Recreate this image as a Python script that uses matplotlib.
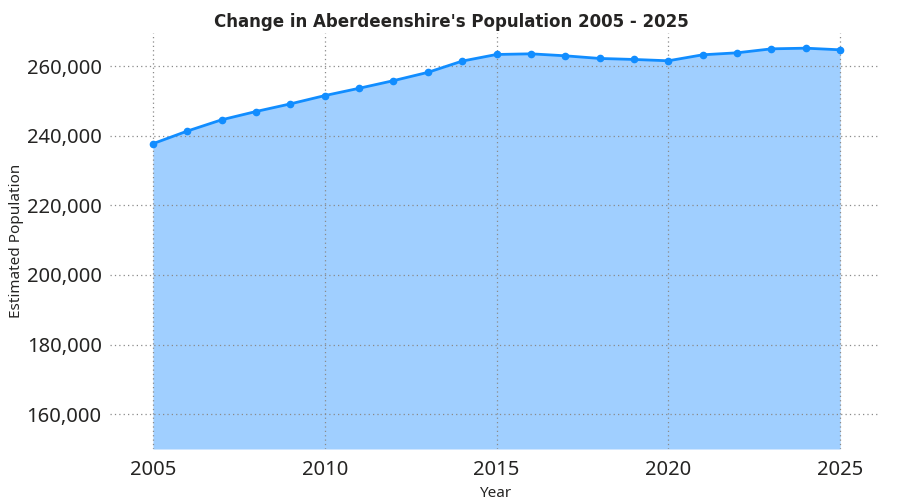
import matplotlib
matplotlib.use("Agg")
import matplotlib.pyplot as plt
from matplotlib.ticker import FuncFormatter

# Datos
years = [2005, 2006, 2007, 2008, 2009, 2010, 2011, 2012, 2013, 2014, 2015,
         2016, 2017, 2018, 2019, 2020, 2021, 2022, 2023, 2024, 2025]
population = [237700, 241330, 244570, 246950, 249140, 251520, 253620, 255810,
              258190, 261430, 263330, 263520, 262950, 262190, 261900, 261520,
              263240, 263810, 264950, 265140, 264670]
x_ticks = [2005, 2010, 2015, 2020, 2025]
y_ticks = [160000, 180000, 200000, 220000, 240000, 260000]

line_col = "#118DFF"
fill_col = "#A0CFFF"

plt.rcParams['font.family'] = ['Noto Sans', 'DejaVu Sans']

fig = plt.figure(figsize=(9.03, 5.03), dpi=100)
ax = fig.add_axes([110/903, 54/503, (880-110)/903, (449-33)/503])

ax.fill_between(years, population, 150000, color=fill_col, linewidth=0, zorder=1)
ax.plot(years, population, color=line_col, linewidth=2, marker='o', markersize=4.5, zorder=3)

ax.set_xlim(2003.75, 2026.16)
ax.set_ylim(150000, 269500)
ax.set_xticks(x_ticks)
ax.set_yticks(y_ticks)
ax.yaxis.set_major_formatter(FuncFormatter(lambda v, p: f"{int(v):,}"))
ax.tick_params(axis='both', length=0, labelsize=14.5, colors='#252423')
ax.tick_params(axis='x', pad=8)
ax.tick_params(axis='y', pad=6)

for s in ax.spines.values():
    s.set_visible(False)
ax.grid(True, linestyle=(0, (1, 2.5)), color='#8a8a8a', linewidth=0.9, zorder=2)
ax.set_axisbelow(False)

ax.set_xlabel('Year', fontsize=11, color='#252423', labelpad=4)
ax.set_ylabel('Estimated Population', fontsize=11, color='#252423')
ax.yaxis.set_label_coords(-0.112, 0.5)

fig.text(0.5, 0.975, "Change in Aberdeenshire's Population 2005 - 2025",
         ha='center', va='top', fontsize=12, fontweight='bold', color='#252423',
         family=['DejaVu Sans'])

fig.savefig('out.png', dpi=100)
